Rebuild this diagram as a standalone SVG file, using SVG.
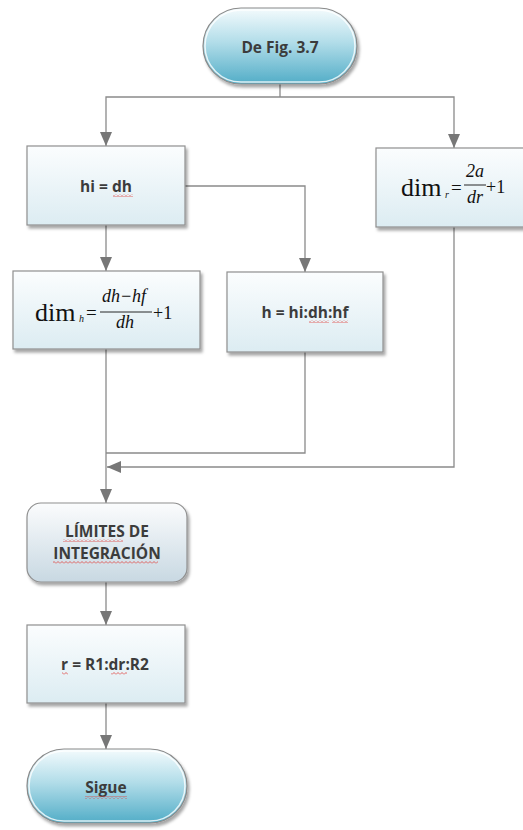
<svg xmlns="http://www.w3.org/2000/svg" width="523" height="830" viewBox="0 0 523 830">
<defs>
<style>
.box{fill:url(#gBox);stroke:#8f8f8f;stroke-width:1.2;filter:url(#sh)}
.lim{fill:url(#gLim);stroke:#8f8f8f;stroke-width:1.2;filter:url(#sh)}
.term{fill:url(#gTerm);stroke:#8a8a8a;stroke-width:1.2;filter:url(#sh)}
.hl{fill:none;stroke:#ffffff;stroke-opacity:0.8;stroke-width:1.5}
.lbl{font-family:"Open Sans","Liberation Sans",sans-serif;font-weight:700;font-size:15.5px;fill:#3c3c3c;text-anchor:middle}
.m{font-family:"Liberation Serif","DejaVu Serif",serif;fill:#111}
.mi{font-family:"Liberation Serif","DejaVu Serif",serif;font-style:italic;fill:#111}
.con{fill:none;stroke:#8a8a8a;stroke-width:1.3}
.sq{fill:url(#squig)}
</style>
<linearGradient id="gBox" x1="0" y1="0" x2="0" y2="1">
<stop offset="0" stop-color="#fbfdfe"/><stop offset="1" stop-color="#dcecf2"/>
</linearGradient>
<linearGradient id="gLim" x1="0" y1="0" x2="0" y2="1">
<stop offset="0" stop-color="#fbfcfd"/><stop offset="1" stop-color="#c8d8e2"/>
</linearGradient>
<linearGradient id="gTerm" x1="0" y1="0" x2="0" y2="1">
<stop offset="0" stop-color="#f4fbfd"/><stop offset="0.45" stop-color="#b2dde9"/><stop offset="1" stop-color="#52adc7"/>
</linearGradient>
<filter id="sh" x="-10%" y="-10%" width="125%" height="130%">
<feDropShadow dx="2" dy="3" stdDeviation="1.8" flood-color="#000" flood-opacity="0.35"/>
</filter>
<marker id="arr" markerUnits="userSpaceOnUse" viewBox="0 0 14 12" refX="14" refY="6" markerWidth="14" markerHeight="12" orient="auto">
<path d="M0,0 L14,6 L0,12 z" fill="#777"/>
</marker>
<pattern id="squig" patternUnits="userSpaceOnUse" width="4" height="3">
<path d="M0,2.5 L2,0.5 L4,2.5" fill="none" stroke="#e0403c" stroke-width="0.8"/>
</pattern>
</defs>

<g id="connectors">
<path class="con" d="M280,84 V97"/>
<path class="con" d="M280,97 H106 V146" marker-end="url(#arr)"/>
<path class="con" d="M280,97 H454 V148" marker-end="url(#arr)"/>
<path class="con" d="M106,225 V271" marker-end="url(#arr)"/>
<path class="con" d="M185,186 H305 V272" marker-end="url(#arr)"/>
<path class="con" d="M106,349 V503" marker-end="url(#arr)"/>
<path class="con" d="M305,352 V453 H106"/>
<path class="con" d="M454,227 V467 H107" marker-end="url(#arr)"/>
<path class="con" d="M106,582 V625" marker-end="url(#arr)"/>
<path class="con" d="M106,703 V749" marker-end="url(#arr)"/>
</g>

<g id="start">
<rect class="term" x="203" y="8" width="154" height="76" rx="38" ry="38"/>
<rect class="hl" x="205" y="10" width="150" height="72" rx="36" ry="36"/>
<text class="lbl" x="280" y="53">De Fig. 3.7</text>
</g>

<g id="hi">
<rect class="box" x="27" y="146" width="158" height="79"/>
<text class="lbl" x="106" y="192">hi = dh</text>
<rect class="sq" x="113" y="194" width="20" height="3"/>
</g>

<g id="dimr">
<rect class="box" x="376" y="148" width="152" height="79"/>
<text class="m" x="401" y="196" font-size="26">dim</text>
<text class="mi" x="445" y="198" font-size="10">r</text>
<text class="m" x="451" y="194" font-size="19">=</text>
<text class="mi" x="475" y="177" font-size="18" text-anchor="middle">2a</text>
<line x1="464" y1="185" x2="486" y2="185" stroke="#111" stroke-width="0.9"/>
<text class="mi" x="475" y="203" font-size="18" text-anchor="middle">dr</text>
<text class="m" x="486" y="193" font-size="18">+1</text>
</g>

<g id="dimh">
<rect class="box" x="13" y="271" width="187" height="78"/>
<text class="m" x="35" y="321" font-size="26">dim</text>
<text class="mi" x="79" y="322" font-size="10">h</text>
<text class="m" x="86" y="319" font-size="19">=</text>
<text class="mi" x="124" y="302" font-size="18" text-anchor="middle">dh−hf</text>
<line x1="100" y1="312" x2="152" y2="312" stroke="#111" stroke-width="0.9"/>
<text class="mi" x="125" y="328" font-size="18" text-anchor="middle">dh</text>
<text class="m" x="153" y="319" font-size="18">+1</text>
</g>

<g id="h">
<rect class="box" x="227" y="272" width="156" height="80"/>
<text class="lbl" x="305" y="318">h = hi:dh:hf</text>
<rect class="sq" x="309" y="320" width="20" height="3"/>
<rect class="sq" x="332" y="320" width="16" height="3"/>
</g>

<g id="limites">
<rect class="lim" x="27" y="503" width="160" height="79" rx="14" ry="14"/>
<text class="lbl" x="107" y="537">LÍMITES DE</text>
<text class="lbl" x="107" y="559">INTEGRACIÓN</text>
<rect class="sq" x="63" y="539" width="60" height="3"/>
<rect class="sq" x="53" y="561" width="105" height="3"/>
</g>

<g id="r">
<rect class="box" x="27" y="625" width="158" height="78"/>
<text class="lbl" x="105" y="670">r = R1:dr:R2</text>
<rect class="sq" x="62" y="672" width="6" height="3"/>
<rect class="sq" x="111" y="672" width="16" height="3"/>
</g>

<g id="sigue">
<rect class="term" x="27" y="749" width="160" height="74" rx="37" ry="37"/>
<rect class="hl" x="29" y="751" width="156" height="70" rx="35" ry="35"/>
<text class="lbl" x="106" y="793">Sigue</text>
<rect class="sq" x="85" y="796" width="42" height="3"/>
</g>
</svg>
